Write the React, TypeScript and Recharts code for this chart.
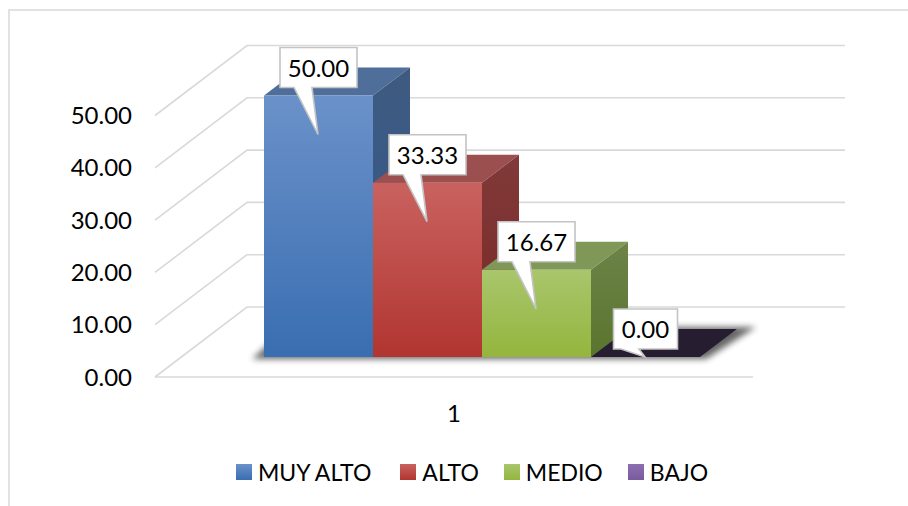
import React from 'react';
import { BarChart, Bar, XAxis, YAxis, Legend, LabelList, CartesianGrid } from 'recharts';

const categories = ['1'];
const muyAlto = [50.0];
const alto = [33.33];
const medio = [16.67];
const bajo = [0.0];
const yTicks = [0, 10, 20, 30, 40, 50];

const data = categories.map((name, i) => ({
    name,
    muyAlto: muyAlto[i],
    alto: alto[i],
    medio: medio[i],
    bajo: bajo[i],
}));

const FONT = 'Lato, sans-serif';
const FONT_SIZE = 24;
const GRID = '#d9d9d9';

// layout of the fake 3D box
const PLOT_LEFT = 155;
const PLOT_RIGHT = 753;
const WALL_DX = 92;
const WALL_DY = 70;
const BAR_SHIFT_X = 28;
const BAR_SHIFT_Y = 20;
const DEPTH_X = 37;
const DEPTH_Y = 28;

const legendGaps = [29, 25, 25, 0];

const series = [
    { key: 'muyAlto', name: 'MUY ALTO', top: '#6b91c9', bottom: '#396eb1', roof: '#4f6e99', sideTop: '#3f5a80', sideBottom: '#2f5a8f' },
    { key: 'alto', name: 'ALTO', top: '#c9625f', bottom: '#b13531', roof: '#9b4f4e', sideTop: '#803a39', sideBottom: '#7a2825' },
    { key: 'medio', name: 'MEDIO', top: '#a9c66c', bottom: '#95b53e', roof: '#7f9858', sideTop: '#6d8349', sideBottom: '#5a752e' },
    { key: 'bajo', name: 'BAJO', top: '#8c6fb0', bottom: '#7a5a9f', roof: '#261d31', sideTop: '#261d31', sideBottom: '#261d31' },
];

const WallLine = ({ y1 }: any) => (
    <polyline
        points={`${PLOT_LEFT},${y1} ${PLOT_LEFT + WALL_DX},${y1 - WALL_DY} ${PLOT_RIGHT + WALL_DX},${y1 - WALL_DY}`}
        fill="none"
        stroke={GRID}
        strokeWidth={1.6}
    />
);

const ValueTick = ({ x, y, payload }: any) => (
    <text x={x - 15} y={y} dy={8.5} textAnchor="end" fontFamily={FONT} fontSize={FONT_SIZE} fill="#000">
        {payload.value.toFixed(2)}
    </text>
);

const Box3D = ({ x, y, width, height, colors, withShadow }: any) => {
    const left = x + BAR_SHIFT_X;
    const top = y - BAR_SHIFT_Y;
    const right = left + width;
    const base = top + height;
    return (
        <g>
            {withShadow && (
                <polygon
                    points={`${left - 12},${base + 2} ${left + width * 4 + 6},${base + 2} ${left + width * 4 + 56},${base - DEPTH_Y - 2} ${left + 24},${base - DEPTH_Y - 2}`}
                    fill="#000"
                    opacity={0.6}
                    filter="url(#floorShadow)"
                />
            )}
            <polygon
                points={`${left},${top} ${left + DEPTH_X},${top - DEPTH_Y} ${right + DEPTH_X},${top - DEPTH_Y} ${right},${top}`}
                fill={colors.roof}
            />
            {height > 0 && (
                <>
                    <polygon
                        points={`${right},${top} ${right + DEPTH_X},${top - DEPTH_Y} ${right + DEPTH_X},${base - DEPTH_Y} ${right},${base}`}
                        fill={`url(#side-${colors.key})`}
                    />
                    <rect x={left} y={top} width={width} height={height} fill={`url(#front-${colors.key})`} />
                </>
            )}
        </g>
    );
};

const Callout = ({ x, y, width, height, value }: any) => {
    const left = x + BAR_SHIFT_X;
    const top = y - BAR_SHIFT_Y;
    const label = Number(value).toFixed(2);
    const boxW = label.length === 4 ? 64 : 77;
    const boxX = left + (width - boxW) / 2;
    const boxTop = top - 48;
    const boxBottom = top - 8;
    const tipX = left + 54;
    const tipY = top + Math.min(39, height);
    const d = `M${boxX},${boxTop} H${boxX + boxW} V${boxBottom} H${left + 48} L${tipX},${tipY} L${left + 30},${boxBottom} H${boxX} Z`;
    return (
        <g>
            <path d={d} fill="#fff" stroke="#c4c4c4" strokeWidth={1.6} />
            <text x={boxX + boxW / 2} y={boxTop + 29} textAnchor="middle" fontFamily={FONT} fontSize={FONT_SIZE} fill="#000">
                {label}
            </text>
        </g>
    );
};

const ChartLegend = ({ payload }: any) => (
    <div style={{ display: 'flex', fontFamily: FONT, fontSize: 23, color: '#000', lineHeight: '24px' }}>
        {(payload || []).map((entry: any, i: number) => (
            <div key={entry.value} style={{ display: 'flex', alignItems: 'center', marginRight: legendGaps[i] }}>
                <span
                    style={{
                        width: 16,
                        height: 16,
                        marginRight: 6,
                        background: `linear-gradient(${series[i].top}, ${series[i].bottom})`,
                    }}
                />
                {entry.value}
            </div>
        ))}
    </div>
);

export default function App() {
    return (
        <div style={{ position: 'absolute', left: 0, top: 0, width: 908, height: 506, overflow: 'hidden', background: '#fff' }}>
            <div
                style={{
                    position: 'absolute',
                    left: 8,
                    top: 9,
                    right: 0,
                    bottom: 0,
                    borderTop: '2px solid #e2e2e2',
                    borderLeft: '2px solid #e2e2e2',
                }}
            />
            <BarChart
                width={908}
                height={506}
                data={data}
                margin={{ top: 115.5, right: 155, bottom: 0, left: 0 }}
                barCategoryGap={81}
                barGap={0}
                style={{ position: 'absolute', left: 0, top: 0 }}
            >
                <defs>
                    <filter id="floorShadow" x="-20%" y="-50%" width="140%" height="200%">
                        <feGaussianBlur stdDeviation="3" />
                    </filter>
                    {series.map((s) => (
                        <React.Fragment key={s.key}>
                            <linearGradient id={`front-${s.key}`} x1="0" y1="0" x2="0" y2="1">
                                <stop offset="0%" stopColor={s.top} />
                                <stop offset="100%" stopColor={s.bottom} />
                            </linearGradient>
                            <linearGradient id={`side-${s.key}`} x1="0" y1="0" x2="0" y2="1">
                                <stop offset="0%" stopColor={s.sideTop} />
                                <stop offset="100%" stopColor={s.sideBottom} />
                            </linearGradient>
                        </React.Fragment>
                    ))}
                </defs>
                <CartesianGrid vertical={false} horizontal={(props: any) => <WallLine {...props} />} />
                <YAxis
                    width={155}
                    domain={[0, 50]}
                    ticks={yTicks}
                    axisLine={false}
                    tickLine={false}
                    tick={<ValueTick />}
                    interval={0}
                />
                <XAxis
                    dataKey="name"
                    height={129}
                    axisLine={{ stroke: GRID, strokeWidth: 1.6 }}
                    tickLine={false}
                    tickMargin={22}
                    tick={{ fontFamily: FONT, fontSize: FONT_SIZE, fill: '#000' }}
                />
                <Legend
                    verticalAlign="middle"
                    content={<ChartLegend />}
                    itemSorter={null}
                    wrapperStyle={{ left: 236, top: 460, width: 640 }}
                />
                {series.map((s, i) => (
                    <Bar
                        key={s.key}
                        dataKey={s.key}
                        name={s.name}
                        fill={s.bottom}
                        isAnimationActive={false}
                        shape={(props: any) => <Box3D {...props} colors={s} withShadow={i === 0} />}
                    >
                        <LabelList dataKey={s.key} content={<Callout />} />
                    </Bar>
                ))}
            </BarChart>
        </div>
    );
}
